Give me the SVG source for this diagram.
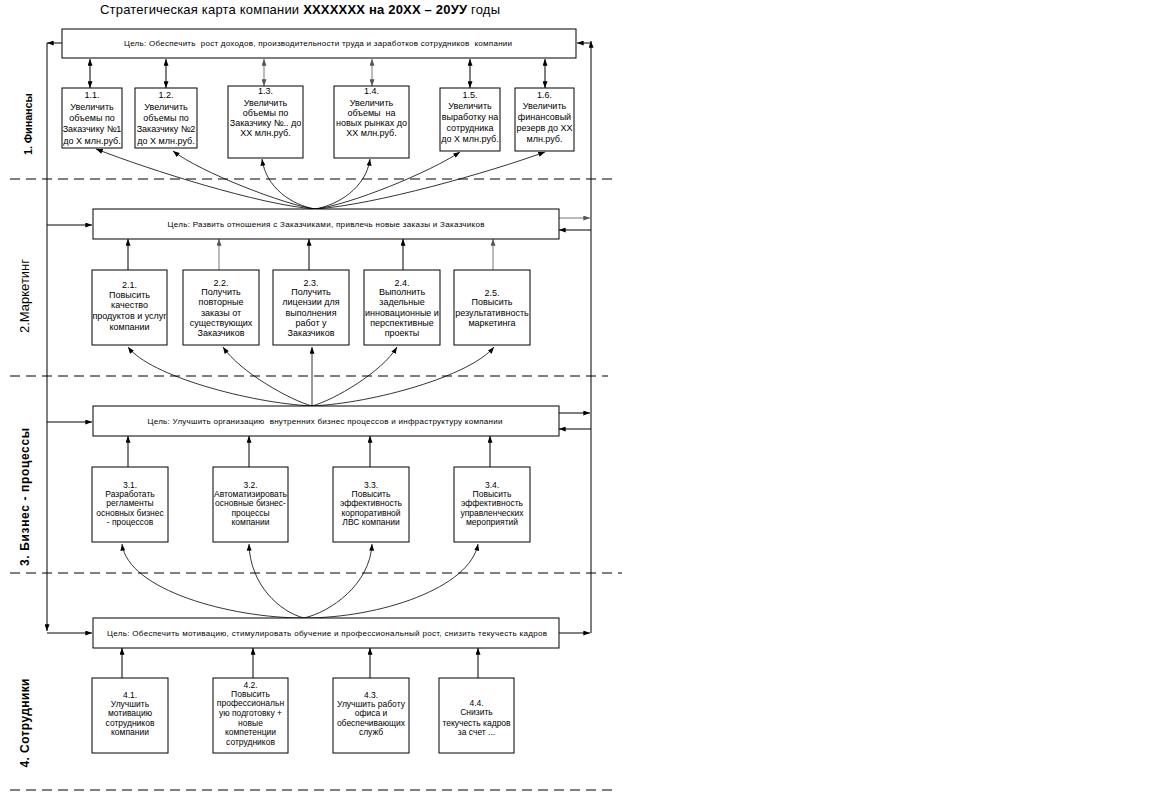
<svg xmlns="http://www.w3.org/2000/svg" width="1152" height="794" viewBox="0 0 1152 794">
<defs>
<style>
text{font-family:"Liberation Sans",Arial,sans-serif;fill:#000}
.t{font-size:13px}
.g{font-size:8px;text-anchor:middle;white-space:pre}
.b{font-size:9px;text-anchor:middle}
.s{font-size:8.5px;text-anchor:middle}
.lab{text-anchor:middle}
.box{fill:#fff;stroke:#000;stroke-width:1}
.ln{fill:none;stroke:#000;stroke-width:1}
.gr{fill:none;stroke:#777;stroke-width:1}
.cv{fill:none;stroke:#000;stroke-width:0.8}
.dash{fill:none;stroke:#000;stroke-width:1;stroke-dasharray:10 6}
</style>
<marker id="a" viewBox="0 0 8 6" refX="8" refY="3" markerWidth="7" markerHeight="5" orient="auto-start-reverse" markerUnits="userSpaceOnUse"><path d="M0,0L8,3L0,6z" fill="#000"/></marker>
<marker id="ag" viewBox="0 0 8 6" refX="8" refY="3" markerWidth="7" markerHeight="5" orient="auto-start-reverse" markerUnits="userSpaceOnUse"><path d="M0,0L8,3L0,6z" fill="#555"/></marker>
</defs>
<rect width="1152" height="794" fill="#fff"/>

<text class="t" x="300" y="14" text-anchor="middle" textLength="400">Стратегическая карта компании <tspan font-weight="bold">ХХХХХХХ на 20ХХ – 20УУ</tspan> годы</text>

<g id="dashes">
<line class="dash" x1="10" y1="179" x2="615" y2="179"/>
<line class="dash" x1="10" y1="376" x2="608" y2="376"/>
<line class="dash" x1="10" y1="573" x2="622" y2="573"/>
<line class="dash" x1="10" y1="790" x2="618" y2="790"/>
</g>

<g id="lanes">
<text class="lab" style="font-size:11px;font-weight:bold" transform="translate(32,124) rotate(-90)" textLength="62">1. Финансы</text>
<text class="lab" style="font-size:13px" transform="translate(29,296) rotate(-90)">2.Маркетинг</text>
<text class="lab" style="font-size:12px;font-weight:bold" transform="translate(29,497) rotate(-90)" textLength="138">3. Бизнес - процессы</text>
<text class="lab" style="font-size:12px;font-weight:bold" transform="translate(29,723) rotate(-90)" textLength="89">4. Сотрудники</text>
</g>

<g id="connectors">
<line class="ln" x1="62" y1="43" x2="47" y2="43" marker-end="url(#a)"/>
<line class="ln" x1="47" y1="43" x2="47" y2="631" marker-end="url(#a)"/>
<line class="ln" x1="47" y1="633" x2="92" y2="633" marker-end="url(#a)"/>
<line class="ln" x1="47" y1="225" x2="92" y2="225" marker-end="url(#a)"/>
<line class="ln" x1="47" y1="422" x2="92" y2="422" marker-end="url(#a)"/>
<line class="ln" x1="591" y1="633" x2="591" y2="41" marker-end="url(#a)"/>
<line class="ln" x1="591" y1="43" x2="577" y2="43" marker-end="url(#a)"/>
<line class="gr" x1="559" y1="218" x2="590" y2="218" marker-end="url(#ag)"/>
<line class="ln" x1="591" y1="230" x2="559" y2="230" marker-end="url(#a)"/>
<line class="ln" x1="559" y1="413" x2="590" y2="413" marker-end="url(#a)"/>
<line class="ln" x1="591" y1="429" x2="559" y2="429" marker-end="url(#a)"/>
<line class="ln" x1="559" y1="633" x2="590" y2="633" marker-end="url(#a)"/>
<line class="ln" x1="90" y1="59" x2="90" y2="88" marker-start="url(#a)" marker-end="url(#a)"/>
<line class="ln" x1="166" y1="59" x2="166" y2="88" marker-start="url(#a)" marker-end="url(#a)"/>
<line class="gr" x1="264" y1="59" x2="264" y2="86" marker-start="url(#ag)" marker-end="url(#ag)"/>
<line class="gr" x1="372" y1="59" x2="372" y2="86" marker-start="url(#ag)" marker-end="url(#ag)"/>
<line class="ln" x1="470" y1="59" x2="470" y2="88" marker-start="url(#a)" marker-end="url(#a)"/>
<line class="ln" x1="545" y1="59" x2="545" y2="88" marker-start="url(#a)" marker-end="url(#a)"/>
<path class="cv" d="M315,209 C260,205 150,170 96,149" marker-end="url(#a)"/>
<path class="cv" d="M315,209 C285,205 200,172 173,151" marker-end="url(#a)"/>
<path class="cv" d="M315,209 C292,205 266,188 262,159" marker-end="url(#a)"/>
<path class="cv" d="M315,209 C338,205 366,188 370,159" marker-end="url(#a)"/>
<path class="cv" d="M315,209 C350,205 430,172 460,152" marker-end="url(#a)"/>
<path class="cv" d="M315,209 C375,205 490,172 545,152" marker-end="url(#a)"/>
<line class="ln" x1="128" y1="270" x2="128" y2="239" marker-end="url(#a)"/>
<line class="gr" x1="219" y1="270" x2="219" y2="239" marker-end="url(#ag)"/>
<line class="ln" x1="309" y1="270" x2="309" y2="239" marker-end="url(#a)"/>
<line class="ln" x1="403" y1="270" x2="403" y2="239" marker-end="url(#a)"/>
<line class="gr" x1="493" y1="270" x2="493" y2="239" marker-end="url(#ag)"/>
<path class="cv" d="M312,406 C250,403 150,376 128,347" marker-end="url(#a)"/>
<path class="cv" d="M312,406 C290,400 240,372 223,347" marker-end="url(#a)"/>
<path class="cv" d="M312,406 L312,347" marker-end="url(#a)"/>
<path class="cv" d="M312,406 C334,400 382,372 397,347" marker-end="url(#a)"/>
<path class="cv" d="M312,406 C374,403 470,376 494,347" marker-end="url(#a)"/>
<line class="ln" x1="128" y1="467" x2="128" y2="436" marker-end="url(#a)"/>
<line class="ln" x1="249" y1="467" x2="249" y2="436" marker-end="url(#a)"/>
<line class="ln" x1="370" y1="467" x2="370" y2="436" marker-end="url(#a)"/>
<line class="ln" x1="490" y1="467" x2="490" y2="436" marker-end="url(#a)"/>
<path class="cv" d="M304,618 C230,618 128,590 122,544" marker-end="url(#a)"/>
<path class="cv" d="M304,618 C280,612 250,585 249,544" marker-end="url(#a)"/>
<path class="cv" d="M304,618 C330,612 370,585 372,544" marker-end="url(#a)"/>
<path class="cv" d="M304,618 C380,618 470,588 478,544" marker-end="url(#a)"/>
<line class="ln" x1="122" y1="678" x2="122" y2="648" marker-end="url(#a)"/>
<line class="ln" x1="253" y1="678" x2="253" y2="648" marker-end="url(#a)"/>
<line class="ln" x1="370" y1="678" x2="370" y2="648" marker-end="url(#a)"/>
<line class="ln" x1="478" y1="678" x2="478" y2="648" marker-end="url(#a)"/>
</g>

<g id="goal1"><rect class="box" x="62" y="29" width="514" height="29"/>
<text class="g" x="318" y="46" textLength="388">Цель: Обеспечить  рост доходов, производительности труда и заработков сотрудников  компании</text></g>
<g id="goal2"><rect class="box" x="93" y="209" width="466" height="30"/>
<text class="g" x="326" y="227" textLength="317">Цель: Развить отношения с Заказчиками, привлечь новые заказы и Заказчиков</text></g>
<g id="goal3"><rect class="box" x="93" y="406" width="466" height="30"/>
<text class="g" x="325" y="424" textLength="355">Цель: Улучшить организацию  внутренних бизнес процессов и инфраструктуру компании</text></g>
<g id="goal4"><rect class="box" x="93" y="618" width="466" height="30"/>
<text class="g" x="327" y="636" textLength="440">Цель: Обеспечить мотивацию, стимулировать обучение и профессиональный рост, снизить текучесть кадров</text></g>

<g id="n11"><rect class="box" x="62" y="88" width="60" height="60"/>
<text class="b"><tspan x="92" y="98">1.1.</tspan><tspan x="92" y="109.5">Увеличить</tspan><tspan x="92" y="120.5">объемы по</tspan><tspan x="92" y="132">Заказчику №1</tspan><tspan x="92" y="144">до Х млн.руб.</tspan></text></g>
<g id="n12"><rect class="box" x="135" y="88" width="62" height="60"/>
<text class="b"><tspan x="166" y="98">1.2.</tspan><tspan x="166" y="109.5">Увеличить</tspan><tspan x="166" y="120.5">объемы по</tspan><tspan x="166" y="132">Заказчику №2</tspan><tspan x="166" y="144">до Х млн.руб.</tspan></text></g>
<g id="n13"><rect class="box" x="228" y="86" width="75" height="72"/>
<text class="b"><tspan x="265.5" y="94">1.3.</tspan><tspan x="265.5" y="106">Увеличить</tspan><tspan x="265.5" y="116">объемы по</tspan><tspan x="265.5" y="126">Заказчику №.. до</tspan><tspan x="265.5" y="136">ХХ млн.руб.</tspan></text></g>
<g id="n14"><rect class="box" x="334" y="86" width="75" height="72"/>
<text class="b" style="white-space:pre"><tspan x="371.5" y="94">1.4.</tspan><tspan x="371.5" y="106">Увеличить</tspan><tspan x="371.5" y="116">объемы  на</tspan><tspan x="371.5" y="126">новых рынках до</tspan><tspan x="371.5" y="136">ХХ млн.руб.</tspan></text></g>
<g id="n15"><rect class="box" x="440" y="88" width="60" height="63"/>
<text class="b"><tspan x="470" y="98">1.5.</tspan><tspan x="470" y="109">Увеличить</tspan><tspan x="470" y="120">выработку на</tspan><tspan x="470" y="131">сотрудника</tspan><tspan x="470" y="142">до Х млн.руб.</tspan></text></g>
<g id="n16"><rect class="box" x="515" y="88" width="59" height="63"/>
<text class="b"><tspan x="544.5" y="98">1.6.</tspan><tspan x="544.5" y="109">Увеличить</tspan><tspan x="544.5" y="120">финансовый</tspan><tspan x="544.5" y="131">резерв до ХХ</tspan><tspan x="544.5" y="142">млн.руб.</tspan></text></g>

<g id="n21"><rect class="box" x="92" y="270" width="75" height="75"/>
<text class="b"><tspan x="129.5" y="288">2.1.</tspan><tspan x="129.5" y="298">Повысить</tspan><tspan x="129.5" y="308">качество</tspan><tspan x="129.5" y="319">продуктов и услуг</tspan><tspan x="129.5" y="330">компании</tspan></text></g>
<g id="n22"><rect class="box" x="183" y="270" width="76" height="75"/>
<text class="b"><tspan x="221" y="286">2.2.</tspan><tspan x="221" y="295">Получить</tspan><tspan x="221" y="305">повторные</tspan><tspan x="221" y="316">заказы от</tspan><tspan x="221" y="326">существующих</tspan><tspan x="221" y="336">Заказчиков</tspan></text></g>
<g id="n23"><rect class="box" x="273" y="270" width="76" height="75"/>
<text class="b"><tspan x="311" y="286">2.3.</tspan><tspan x="311" y="295">Получить</tspan><tspan x="311" y="305">лицензии для</tspan><tspan x="311" y="316">выполнения</tspan><tspan x="311" y="326">работ у</tspan><tspan x="311" y="336">Заказчиков</tspan></text></g>
<g id="n24"><rect class="box" x="364" y="270" width="76" height="75"/>
<text class="b"><tspan x="402" y="286">2.4.</tspan><tspan x="402" y="295">Выполнить</tspan><tspan x="402" y="305">задельные</tspan><tspan x="402" y="316">инновационные и</tspan><tspan x="402" y="326">перспективные</tspan><tspan x="402" y="336">проекты</tspan></text></g>
<g id="n25"><rect class="box" x="454" y="270" width="76" height="75"/>
<text class="b"><tspan x="492" y="296">2.5.</tspan><tspan x="492" y="305">Повысить</tspan><tspan x="492" y="316">результативность</tspan><tspan x="492" y="326">маркетинга</tspan></text></g>

<g id="n31"><rect class="box" x="92" y="467" width="76" height="75"/>
<text class="s"><tspan x="130" y="488">3.1.</tspan><tspan x="130" y="497">Разработать</tspan><tspan x="130" y="506">регламенты</tspan><tspan x="130" y="516">основных бизнес</tspan><tspan x="130" y="525">- процессов</tspan></text></g>
<g id="n32"><rect class="box" x="213" y="467" width="75" height="75"/>
<text class="s"><tspan x="250.5" y="488">3.2.</tspan><tspan x="250.5" y="497">Автоматизировать</tspan><tspan x="250.5" y="506">основные бизнес-</tspan><tspan x="250.5" y="516">процессы</tspan><tspan x="250.5" y="525">компании</tspan></text></g>
<g id="n33"><rect class="box" x="333" y="467" width="76" height="75"/>
<text class="s"><tspan x="371" y="488">3.3.</tspan><tspan x="371" y="497">Повысить</tspan><tspan x="371" y="506">эффективность</tspan><tspan x="371" y="516">корпоративной</tspan><tspan x="371" y="525">ЛВС компании</tspan></text></g>
<g id="n34"><rect class="box" x="454" y="467" width="76" height="75"/>
<text class="s"><tspan x="492" y="488">3.4.</tspan><tspan x="492" y="497">Повысить</tspan><tspan x="492" y="506">эффективность</tspan><tspan x="492" y="516">управленческих</tspan><tspan x="492" y="525">мероприятий</tspan></text></g>

<g id="n41"><rect class="box" x="92" y="678" width="76" height="75"/>
<text class="s"><tspan x="130" y="698">4.1.</tspan><tspan x="130" y="707">Улучшить</tspan><tspan x="130" y="716">мотивацию</tspan><tspan x="130" y="726">сотрудников</tspan><tspan x="130" y="735">компании</tspan></text></g>
<g id="n42"><rect class="box" x="213" y="678" width="75" height="75"/>
<text class="s"><tspan x="250.5" y="688">4.2.</tspan><tspan x="250.5" y="697">Повысить</tspan><tspan x="250.5" y="706">профессиональн</tspan><tspan x="250.5" y="716">ую подготовку +</tspan><tspan x="250.5" y="726">новые</tspan><tspan x="250.5" y="735">компетенции</tspan><tspan x="250.5" y="745">сотрудников</tspan></text></g>
<g id="n43"><rect class="box" x="333" y="678" width="76" height="75"/>
<text class="s"><tspan x="371" y="698">4.3.</tspan><tspan x="371" y="707">Улучшить работу</tspan><tspan x="371" y="716">офиса и</tspan><tspan x="371" y="726">обеспечивающих</tspan><tspan x="371" y="735">служб</tspan></text></g>
<g id="n44"><rect class="box" x="439" y="678" width="75" height="75"/>
<text class="s"><tspan x="476.5" y="706">4.4.</tspan><tspan x="476.5" y="715">Снизить</tspan><tspan x="476.5" y="726">текучесть кадров</tspan><tspan x="476.5" y="735">за счет ...</tspan></text></g>
</svg>
